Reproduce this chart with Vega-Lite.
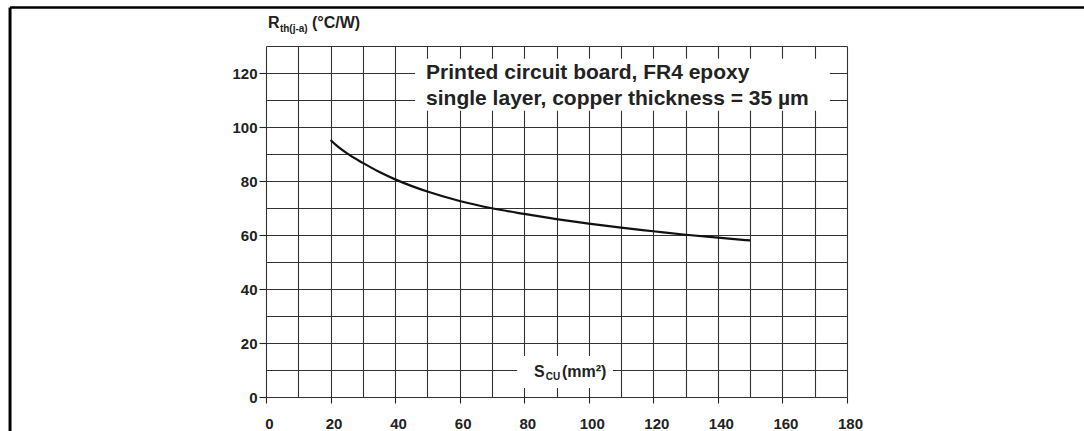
{
  "$schema": "https://vega.github.io/schema/vega-lite/v6.json",
  "width": 581,
  "height": 351,
  "autosize": {"type": "none"},
  "padding": {"left": 266, "top": 46, "right": 237, "bottom": 34},
  "background": "white",
  "config": {"view": {"stroke": null}, "font": "Liberation Sans"},
  "layer": [
    {
      "data": {"values": [
        {"scu": 20, "rth": 95.2}, {"scu": 22, "rth": 93.0}, {"scu": 25, "rth": 90.3},
        {"scu": 30, "rth": 86.7}, {"scu": 35, "rth": 83.4}, {"scu": 40, "rth": 80.6},
        {"scu": 45, "rth": 78.2}, {"scu": 50, "rth": 76.1}, {"scu": 60, "rth": 72.6},
        {"scu": 70, "rth": 69.9}, {"scu": 80, "rth": 67.8}, {"scu": 90, "rth": 65.9},
        {"scu": 100, "rth": 64.2}, {"scu": 110, "rth": 62.7}, {"scu": 120, "rth": 61.4},
        {"scu": 130, "rth": 60.1}, {"scu": 140, "rth": 59.0}, {"scu": 150, "rth": 58.0}
      ]},
      "mark": {"type": "line", "interpolate": "monotone", "color": "#111", "strokeWidth": 2.2},
      "encoding": {
        "x": {
          "field": "scu", "type": "quantitative",
          "scale": {"domain": [0, 180], "nice": false, "zero": false},
          "axis": {
            "title": null,
            "tickCount": 18,
            "grid": true, "gridColor": "#333", "gridWidth": 1.1,
            "domain": false,
            "tickSize": 6, "tickWidth": 1.1, "tickColor": "#222",
            "tickOpacity": {"condition": {"test": "datum.value % 20 === 0", "value": 1}, "value": 0},
            "labelExpr": "datum.value % 20 === 0 ? datum.label : ''",
            "labelFont": "Liberation Sans", "labelFontWeight": "bold", "labelFontSize": 15,
            "labelColor": "#222", "labelPadding": 13, "labelOffset": 3,
            "labelFlush": false, "labelOverlap": false, "labelBound": false
          }
        },
        "y": {
          "field": "rth", "type": "quantitative",
          "scale": {"domain": [0, 130], "nice": false, "zero": false},
          "axis": {
            "title": null,
            "tickCount": 13,
            "grid": true, "gridColor": "#333", "gridWidth": 1.1,
            "domain": false,
            "tickSize": 7, "tickWidth": 1.1, "tickColor": "#222",
            "tickOpacity": {"condition": {"test": "datum.value % 20 === 0", "value": 1}, "value": 0},
            "labelExpr": "datum.value % 20 === 0 ? datum.label : ''",
            "labelFont": "Liberation Sans", "labelFontWeight": "bold", "labelFontSize": 15,
            "labelColor": "#222", "labelPadding": 2,
            "labelFlush": false, "labelOverlap": false, "labelBound": false
          }
        }
      }
    },
    {
      "data": {"values": [{}]},
      "mark": {"type": "rect", "color": "white"},
      "encoding": {
        "x": {"datum": 46.2, "type": "quantitative"},
        "x2": {"datum": 174.7},
        "y": {"datum": 106, "type": "quantitative"},
        "y2": {"datum": 125.3}
      }
    },
    {
      "data": {"values": [{}]},
      "mark": {"type": "rect", "color": "white"},
      "encoding": {
        "x": {"datum": 77.8, "type": "quantitative"},
        "x2": {"datum": 107.5},
        "y": {"datum": 3.3, "type": "quantitative"},
        "y2": {"datum": 15.2}
      }
    },
    {
      "data": {"values": [{}]},
      "mark": {"type": "text", "text": "Printed circuit board, FR4 epoxy", "align": "left", "baseline": "alphabetic", "font": "Liberation Sans", "fontWeight": "bold", "fontSize": 21, "color": "#222"},
      "encoding": {"x": {"datum": 49.6, "type": "quantitative"}, "y": {"datum": 117.8, "type": "quantitative"}}
    },
    {
      "data": {"values": [{}]},
      "mark": {"type": "text", "text": "single layer, copper thickness = 35 µm", "align": "left", "baseline": "alphabetic", "font": "Liberation Sans", "fontWeight": "bold", "fontSize": 21, "color": "#222"},
      "encoding": {"x": {"datum": 49.6, "type": "quantitative"}, "y": {"datum": 108.2, "type": "quantitative"}}
    },
    {
      "data": {"values": [{}]},
      "mark": {"type": "text", "text": "R", "align": "left", "baseline": "alphabetic", "font": "Liberation Sans", "fontWeight": "bold", "fontSize": 16, "color": "#222"},
      "encoding": {"x": {"datum": 0.6, "type": "quantitative"}, "y": {"datum": 136.6, "type": "quantitative"}}
    },
    {
      "data": {"values": [{}]},
      "mark": {"type": "text", "text": "th(j-a)", "align": "left", "baseline": "alphabetic", "font": "Liberation Sans", "fontWeight": "bold", "fontSize": 10, "color": "#222"},
      "encoding": {"x": {"datum": 4.3, "type": "quantitative"}, "y": {"datum": 135.2, "type": "quantitative"}}
    },
    {
      "data": {"values": [{}]},
      "mark": {"type": "text", "text": "(°C/W)", "align": "left", "baseline": "alphabetic", "font": "Liberation Sans", "fontWeight": "bold", "fontSize": 16, "color": "#222"},
      "encoding": {"x": {"datum": 14.25, "type": "quantitative"}, "y": {"datum": 136.6, "type": "quantitative"}}
    },
    {
      "data": {"values": [{}]},
      "mark": {"type": "text", "text": "S", "align": "left", "baseline": "alphabetic", "font": "Liberation Sans", "fontWeight": "bold", "fontSize": 16, "color": "#222"},
      "encoding": {"x": {"datum": 83.0, "type": "quantitative"}, "y": {"datum": 7.4, "type": "quantitative"}}
    },
    {
      "data": {"values": [{}]},
      "mark": {"type": "text", "text": "CU", "align": "left", "baseline": "alphabetic", "font": "Liberation Sans", "fontWeight": "bold", "fontSize": 10, "color": "#222"},
      "encoding": {"x": {"datum": 86.7, "type": "quantitative"}, "y": {"datum": 6.3, "type": "quantitative"}}
    },
    {
      "data": {"values": [{}]},
      "mark": {"type": "text", "text": "(mm²)", "align": "left", "baseline": "alphabetic", "font": "Liberation Sans", "fontWeight": "bold", "fontSize": 16, "color": "#222"},
      "encoding": {"x": {"datum": 91.7, "type": "quantitative"}, "y": {"datum": 7.4, "type": "quantitative"}}
    },
    {
      "data": {"values": [{}]},
      "mark": {"type": "rule", "color": "black", "strokeWidth": 2.5},
      "encoding": {
        "x": {"datum": -79.3, "type": "quantitative"},
        "x2": {"datum": 260},
        "y": {"datum": 144.3, "type": "quantitative"}
      }
    },
    {
      "data": {"values": [{}]},
      "mark": {"type": "rule", "color": "black", "strokeWidth": 3},
      "encoding": {
        "x": {"datum": -79.3, "type": "quantitative"},
        "y": {"datum": 144.3, "type": "quantitative"},
        "y2": {"datum": -20}
      }
    }
  ]
}
